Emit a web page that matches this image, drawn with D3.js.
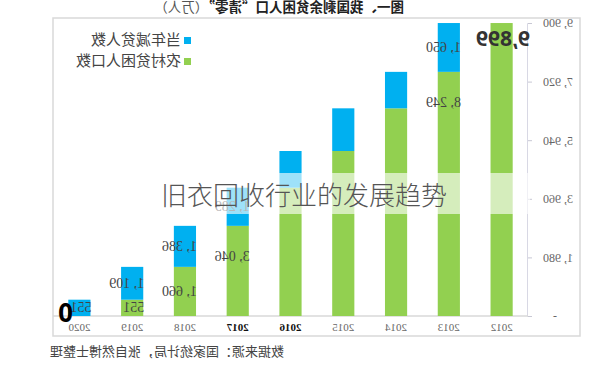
<!DOCTYPE html>
<html>
<head>
<meta charset="utf-8">
<script src="https://cdn.jsdelivr.net/npm/d3@7"></script>
<style>
  body { margin: 0; background: #fff; }
  svg { display: block; }
</style>
</head>
<body>
<svg id="chart"></svg>
<script>
// Chart data (万人)
const years = ["2012", "2013", "2014", "2015", "2016", "2017", "2018", "2019", "2020"];
const rural = [9899, 8249, 7017, 5575, 4335, 3046, 1660, 551, 0];     // 农村贫困人口数
const reduced = [0, 1650, 1232, 1442, 1240, 1289, 1386, 1109, 551];  // 当年减贫人数
const yTicks = [0, 1980, 3960, 5940, 7920, 9900];
const labelledYears = ["2013", "2017", "2018", "2019", "2020"];
const boldYears = ["2016", "2017"];
const seriesNames = ["当年减贫人数", "农村贫困人口数"];

const width = 600;
const height = 374;
const blue = "#00b0f0";
const green = "#92d050";
const serif = "'Liberation Serif', 'DejaVu Serif', serif";
const cjk = "'Noto Sans CJK SC', sans-serif";

const svgRoot = d3.select("#chart")
    .attr("width", width)
    .attr("height", height);

// the whole picture is mirrored left-right
const svg = svgRoot.append("g")
    .attr("transform", `translate(${width},0) scale(-1,1)`);

// scales
const x = d3.scaleBand()
    .domain(years)
    .range([72, 547])
    .paddingInner(0.58)
    .paddingOuter(0.29);

const y = d3.scaleLinear()
    .domain([0, 9900])
    .range([316, 23]);

// outer frame
svg.append("rect")
    .attr("x", 20).attr("y", 18)
    .attr("width", 527).attr("height", 318)
    .attr("fill", "none")
    .attr("stroke", "#d9d9d9")
    .attr("stroke-width", 1.5);

// title (top is cut off in the original too)
const title = svg.append("text")
    .attr("x", 321).attr("y", 12)
    .attr("text-anchor", "middle")
    .attr("font-family", cjk)
    .attr("font-size", 13.5)
    .attr("fill", "#222");
title.append("tspan").attr("font-weight", "bold").text("图一、我国剩余贫困人口“清零”");
title.append("tspan").attr("fill", "#555").text("（万人）");

// y axis
const fmt = d3.format(",");
const yAxis = svg.append("g")
    .attr("transform", "translate(72,0)")
    .call(d3.axisLeft(y)
        .tickValues(yTicks)
        .tickSize(4)
        .tickPadding(11)
        .tickFormat(d => d === 0 ? "-" : fmt(d).replace(",", ", ")));
yAxis.select(".domain").attr("stroke", "#d8d8e4");
yAxis.selectAll(".tick line").attr("stroke", "#c8c8d4");
yAxis.selectAll(".tick text")
    .attr("font-family", serif)
    .attr("font-size", 12)
    .attr("fill", "#666")
    .filter(d => d === 0)
    .attr("x", -25);

// baseline
svg.append("line")
    .attr("x1", 72).attr("x2", 547)
    .attr("y1", y(0)).attr("y2", y(0))
    .attr("stroke", "#d9d9d9")
    .attr("stroke-width", 1.5);

// stacked bars
const rows = years.map((yr, i) => ({ year: yr, rural: rural[i], reduced: reduced[i] }));

svg.selectAll(".bar-green")
    .data(rows)
    .enter().append("rect")
    .attr("class", "bar-green")
    .attr("x", d => x(d.year))
    .attr("width", x.bandwidth())
    .attr("y", d => y(d.rural))
    .attr("height", d => y(0) - y(d.rural))
    .attr("fill", green);

svg.selectAll(".bar-blue")
    .data(rows)
    .enter().append("rect")
    .attr("class", "bar-blue")
    .attr("x", d => x(d.year))
    .attr("width", x.bandwidth())
    .attr("y", d => y(d.rural + d.reduced))
    .attr("height", d => y(d.rural) - y(d.rural + d.reduced))
    .attr("fill", blue);

// value labels
const lab = rows.filter(d => labelledYears.includes(d.year));
const labelStyle = sel => sel
    .attr("font-family", serif)
    .attr("font-size", 14)
    .attr("fill", "#444")
    .attr("dominant-baseline", "middle");

svg.selectAll(".lab-blue")
    .data(lab)
    .enter().append("text")
    .attr("class", "lab-blue")
    .attr("x", d => x(d.year) - 1)
    .attr("y", d => (y(d.rural) + y(d.rural + d.reduced)) / 2 + 1)
    .text(d => fmt(d.reduced).replace(",", ", "))
    .call(labelStyle);

svg.selectAll(".lab-green")
    .data(lab.filter(d => d.rural > 0))
    .enter().append("text")
    .attr("class", "lab-green")
    .attr("x", d => x(d.year) - 1)
    .attr("y", d => Math.min((y(0) + y(d.rural)) / 2 + 1, y(d.rural) + 32))
    .text(d => fmt(d.rural).replace(",", ", "))
    .call(labelStyle);

// big highlighted values
svg.append("text")
    .attr("x", 70).attr("y", 46)
    .attr("font-family", "'Open Sans', sans-serif")
    .attr("font-weight", "bold")
    .attr("font-size", 21)
    .attr("fill", "#333")
    .text(fmt(rural[0]));

svg.append("text")
    .attr("x", 527).attr("y", 322)
    .attr("font-family", "'Open Sans', sans-serif")
    .attr("font-weight", "bold")
    .attr("font-size", 26)
    .attr("fill", "#000")
    .text(rural[rural.length - 1]);

// x axis labels
svg.selectAll(".year")
    .data(years)
    .enter().append("text")
    .attr("class", "year")
    .attr("x", d => x(d) + x.bandwidth() / 2)
    .attr("y", 331)
    .attr("text-anchor", "middle")
    .attr("font-family", serif)
    .attr("font-size", 11)
    .attr("font-weight", d => boldYears.includes(d) ? "bold" : "normal")
    .attr("fill", d => boldYears.includes(d) ? "#111" : "#666")
    .text(d => d);

// legend
const legend = svg.selectAll(".legend")
    .data(seriesNames)
    .enter().append("g")
    .attr("class", "legend")
    .attr("transform", (d, i) => `translate(409,${37 + i * 21})`);
legend.append("rect")
    .attr("width", 7).attr("height", 7)
    .attr("fill", (d, i) => i === 0 ? blue : green);
legend.append("text")
    .attr("x", 10).attr("y", 4)
    .attr("dominant-baseline", "middle")
    .attr("font-family", cjk)
    .attr("font-size", 15)
    .attr("fill", "#444")
    .text(d => d);

// source note
svg.append("text")
    .attr("x", 550).attr("y", 356)
    .attr("text-anchor", "end")
    .attr("font-family", cjk)
    .attr("font-size", 13)
    .attr("fill", "#444")
    .text("数据来源：国家统计局，张自然博士整理");

// overlay caption (not mirrored)
svgRoot.append("rect")
    .attr("x", 155).attr("y", 173)
    .attr("width", 375).attr("height", 41)
    .attr("fill", "#fff")
    .attr("opacity", 0.62);

svgRoot.append("text")
    .attr("x", 161).attr("y", 205)
    .attr("font-family", cjk)
    .attr("font-size", 26)
    .attr("font-weight", 300)
    .attr("fill", "#555")
    .text("旧衣回收行业的发展趋势");
</script>
</body>
</html>
